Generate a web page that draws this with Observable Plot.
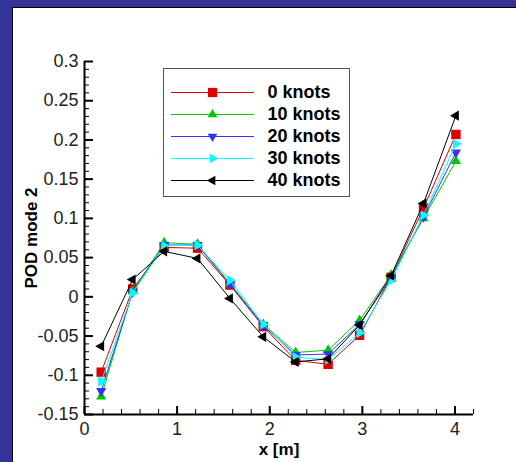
<!DOCTYPE html>
<html>
<head>
<meta charset="utf-8">
<script src="https://cdn.jsdelivr.net/npm/d3@7"></script>
<script src="https://cdn.jsdelivr.net/npm/@observablehq/plot@0.6"></script>
<style>
  html, body { margin: 0; padding: 0; width: 516px; height: 462px; overflow: hidden; background: #333399; }
  #panel { position: absolute; left: 12px; top: 7px; width: 503px; height: 454px; background: #fff; border-left: 1px solid #000; border-top: 1px solid #000; }
  #chart { position: absolute; left: 0; top: 0; }
  #legend { position: absolute; left: 163px; top: 68px; border: 1px solid #555; background: #fff; line-height: 0; }
</style>
</head>
<body>
<div id="panel"></div>
<div id="chart"></div>
<div id="legend"></div>
<script>
// ---- data ----
const xPositions = [0.18, 0.52, 0.86, 1.22, 1.57, 1.93, 2.28, 2.63, 2.97, 3.31, 3.66, 4.01];
const seriesNames = ["0 knots", "10 knots", "20 knots", "30 knots", "40 knots"];
const knots0  = [-0.096, 0.010, 0.063, 0.062, 0.015, -0.038, -0.081, -0.086, -0.049, 0.025, 0.113, 0.207];
const knots10 = [-0.127, 0.007, 0.069, 0.067, 0.017, -0.035, -0.071, -0.068, -0.030, 0.028, 0.100, 0.173];
const knots20 = [-0.120, 0.006, 0.066, 0.066, 0.016, -0.037, -0.074, -0.073, -0.035, 0.024, 0.102, 0.184];
const knots30 = [-0.108, 0.005, 0.065, 0.066, 0.021, -0.035, -0.077, -0.080, -0.046, 0.021, 0.104, 0.195];
const knots40 = [-0.063, 0.022, 0.058, 0.049, -0.002, -0.051, -0.083, -0.079, -0.036, 0.027, 0.119, 0.231];
const seriesValues = [knots0, knots10, knots20, knots30, knots40];
const yTickLabels = [-0.15, -0.1, -0.05, 0, 0.05, 0.1, 0.15, 0.2, 0.25, 0.3];
const xTickLabels = [0, 1, 2, 3, 4];

// ---- styles ----
const colors = ["#e00000", "#00c800", "#3333ff", "#00ffff", "#000000"];
function triangle(angleDeg) {
  const a = angleDeg * Math.PI / 180, c = Math.cos(a), s = Math.sin(a);
  return {
    draw(ctx, size) {
      const y = -Math.sqrt(size / (3 * Math.sqrt(3)));
      const pts = [[0, 2 * y], [-Math.sqrt(3) * y, -y], [Math.sqrt(3) * y, -y]]
        .map(([px, py]) => [px * c - py * s, px * s + py * c]);
      ctx.moveTo(pts[0][0], pts[0][1]);
      ctx.lineTo(pts[1][0], pts[1][1]);
      ctx.lineTo(pts[2][0], pts[2][1]);
      ctx.closePath();
    }
  };
}
const symbols = ["square", triangle(0), triangle(180), triangle(90), triangle(-90)];
const radii = [5.3, 3.8, 3.8, 3.8, 3.8];
const legendRadii = [5.2, 3.6, 3.6, 3.6, 3.6];

const rows = seriesNames.map((name, si) =>
  xPositions.map((x, i) => ({series: name, x, y: seriesValues[si][i]})));

const yMinor = d3.range(-15, 31).map(i => i / 100);
const xMinor = d3.range(0, 22).map(i => i / 5);
const fmt = d => String(+d.toFixed(2));
const font = "'Liberation Sans', Arial, sans-serif";

const seriesMarks = [];
rows.forEach((data, si) => {
  seriesMarks.push(Plot.line(data, {x: "x", y: "y", stroke: colors[si], strokeWidth: 1}));
  seriesMarks.push(Plot.dot(data, {x: "x", y: "y", symbol: symbols[si], r: radii[si], fill: colors[si]}));
});

const chart = Plot.plot({
  width: 516,
  height: 462,
  marginLeft: 84,
  marginRight: 43,
  marginTop: 61,
  marginBottom: 48,
  style: {fontFamily: font, background: "transparent", overflow: "visible"},
  x: {domain: [0, 4.2], label: null},
  y: {domain: [-0.15, 0.3], label: null},
  marks: [
    Plot.axisY(yMinor, {tickSize: -5, fill: "none", strokeWidth: 1, label: null}),
    Plot.axisY(yTickLabels, {tickSize: -9, fill: "none", strokeWidth: 2, label: null}),
    Plot.axisY(yTickLabels, {tickSize: 0, tickPadding: 6, tickFormat: fmt, fontSize: 18, fill: "#222", label: null}),
    Plot.axisX(xMinor, {tickSize: -5, fill: "none", strokeWidth: 1, label: null}),
    Plot.axisX(xTickLabels, {tickSize: -8, fill: "none", strokeWidth: 2, label: null}),
    Plot.axisX(xTickLabels, {tickSize: 0, tickPadding: 8, tickFormat: fmt, fontSize: 18, fill: "#222", label: null}),
    Plot.ruleX([0], {strokeWidth: 2}),
    Plot.ruleY([-0.15], {strokeWidth: 2}),
    ...seriesMarks,
    Plot.text(["x [m]"], {frameAnchor: "bottom", textAnchor: "middle", lineAnchor: "middle", dy: 35, fontSize: 17, fontWeight: "bold", fill: "#000"}),
    Plot.text(["POD mode 2"], {frameAnchor: "left", textAnchor: "middle", lineAnchor: "middle", rotate: -90, dx: -53, fontSize: 17, fontWeight: "bold", fill: "#000"})
  ]
});
document.getElementById("chart").append(chart);

// ---- legend ----
const legendMarks = [];
seriesNames.forEach((name, si) => {
  legendMarks.push(Plot.ruleY([name], {y: d => d, x1: 7, x2: 90, stroke: colors[si], strokeWidth: 1}));
  legendMarks.push(Plot.dot([name], {y: d => d, x: 48, symbol: symbols[si], r: legendRadii[si], fill: colors[si]}));
  legendMarks.push(Plot.text([name], {y: d => d, x: 103, text: d => d, textAnchor: "start", lineAnchor: "middle", fontSize: 18, fontWeight: "bold", fill: "#000"}));
});
const legend = Plot.plot({
  width: 185,
  height: 127,
  marginLeft: 0, marginRight: 0, marginTop: 23, marginBottom: 16,
  style: {fontFamily: font, background: "#fff", overflow: "visible"},
  x: {type: "identity", axis: null},
  y: {type: "point", domain: seriesNames, padding: 0, axis: null},
  marks: legendMarks
});
document.getElementById("legend").append(legend);
</script>
</body>
</html>
